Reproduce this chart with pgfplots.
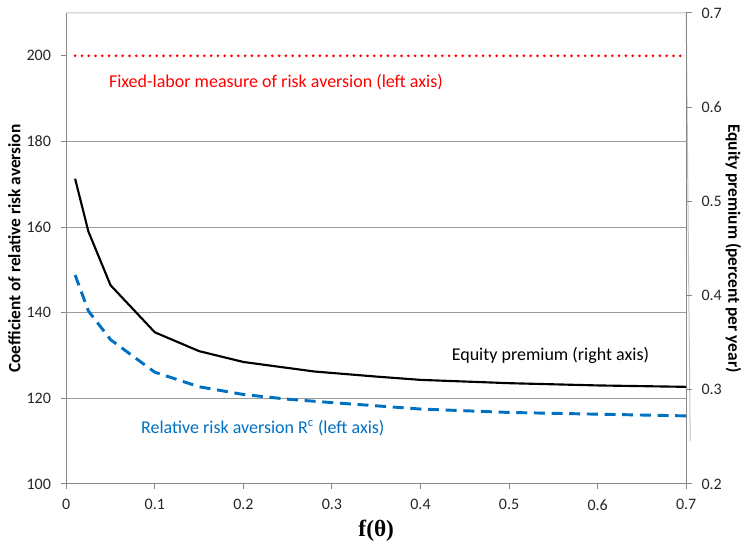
\documentclass[border=0pt]{standalone}
\usepackage{fontspec}
\setmainfont{Carlito}
\newfontfamily\serifb{Liberation Serif}
\usepackage{pgfplots}
\pgfplotsset{compat=1.18}
\definecolor{axgray}{RGB}{134,134,134}
\definecolor{gridgray}{RGB}{155,155,155}
\definecolor{topgray}{RGB}{195,195,195}
\definecolor{rrablue}{RGB}{0,112,192}
\begin{document}
\begin{tikzpicture}
\useasboundingbox (-49.7pt,-44.25pt) rectangle (506.1pt,363pt);
\pgfplotsset{
  common/.style={
    scale only axis, width=465pt, height=353.25pt,
    xmin=0, xmax=0.7,
    /pgf/number format/assume math mode=true,
    tick label style={font=\fontsize{12}{14}\selectfont, text=black!85},
    axis line style={axgray, line width=0.75pt},
    tick style={axgray, line width=0.75pt},
    tick align=outside, major tick length=4pt,
    label style={font=\fontsize{13}{15}\selectfont\bfseries},
  }
}
\begin{axis}[common,
  ymin=100, ymax=210,
  ytick={100,120,...,200},
  xtick={0,0.1,...,0.7},
  xticklabels={0,0.1,0.2,0.3,0.4,0.5,0.6,0.7},
  axis x line*=bottom, axis y line*=left,
  x tick label style={yshift=-4pt},
  y tick label style={xshift=-4pt},
  ylabel={Coefficient of relative risk aversion},
  ylabel style={at={(rel axis cs:0,0.5)}, anchor=center, yshift=39pt},
  xlabel={\serifb\fontsize{17.5}{20}\selectfont\bfseries f(θ)},
  xlabel style={at={(rel axis cs:0.5,0)}, anchor=center, yshift=-35pt},
  clip=false]
\draw[topgray, line width=0.75pt] (axis cs:0,210) -- (axis cs:0.7,210) -- ++(3pt,0);
\foreach \g in {120,140,160,180} {
  \edef\tmp{\noexpand\draw[gridgray, line width=0.75pt] (axis cs:0,\g) -- (axis cs:0.7,\g);}\tmp
}
\addplot[red, line width=2.2pt, line cap=round, dash pattern=on 0pt off 5.1pt] coordinates {(0.01,200) (0.7,200)};
\addplot[rrablue, line width=2.2pt, dash pattern=on 8.25pt off 5pt] coordinates {
(0.01,148.8) (0.025,140.4) (0.05,133.7) (0.1,126.1) (0.15,122.7) (0.2,120.9) (0.25,119.8) (0.3,119.0) (0.4,117.5) (0.5,116.7) (0.6,116.3) (0.7,115.9)};
\node[anchor=west, text=red, font=\fontsize{13.5}{15}\selectfont, inner sep=0pt] at (axis cs:0.048,193.8) {Fixed-labor measure of risk aversion (left axis)};
\node[anchor=west, text=black, font=\fontsize{13.5}{15}\selectfont, inner sep=0pt] at (axis cs:0.435,129.9) {Equity premium (right axis)};
\node[anchor=west, text=rrablue, font=\fontsize{13.5}{15}\selectfont, inner sep=0pt] at (axis cs:0.0842,113.1) {Relative risk aversion R\textsuperscript{c} (left axis)};
\end{axis}
\begin{axis}[common,
  ymin=0.2, ymax=0.7,
  ytick={0.2,0.3,...,0.7},
  yticklabels={0.2,0.3,0.4,0.5,0.6,0.7},
  axis x line=none, axis y line*=right,
  y tick label style={xshift=4pt},
  ylabel={Equity premium (percent per year)},
  ylabel style={at={(rel axis cs:1,0.5)}, anchor=center, rotate=180, yshift=35.5pt},
  clip=false]
\addplot[black, line width=1.6pt] coordinates {
(0.01,0.524) (0.025,0.468) (0.05,0.411) (0.1,0.361) (0.15,0.341) (0.2,0.3295) (0.28,0.3194) (0.35,0.3140) (0.4,0.3105) (0.5,0.3070) (0.6,0.3046) (0.7,0.3031)};
\end{axis}
\end{tikzpicture}
\end{document}
